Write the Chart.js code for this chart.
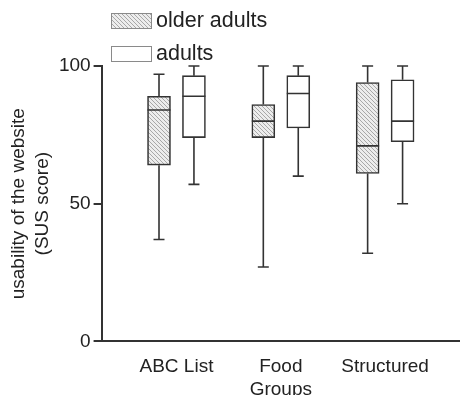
<!DOCTYPE html>
<html>
<head>
<meta charset="utf-8">
<script src="https://cdn.jsdelivr.net/npm/chart.js@4/dist/chart.umd.min.js"></script>
<style>
  html, body { margin: 0; padding: 0; background: #fff; }
  #wrap { width: 460px; height: 395px; position: relative; }
</style>
</head>
<body>
<div id="wrap"><canvas id="c" width="460" height="395"></canvas></div>
<script>
// ---- data ----
const categories = ['ABC List', ['Food', 'Groups'], 'Structured'];
const seriesNames = ['older adults', 'adults'];
const olderMin = [37, 27, 32];
const olderQ1  = [64, 74, 61];
const olderMed = [84, 80, 71];
const olderQ3  = [89, 86, 94];
const olderMax = [97, 100, 100];
const adultMin = [57, 60, 50];
const adultQ1  = [74, 77.5, 72.5];
const adultMed = [89, 90, 80];
const adultQ3  = [96.5, 96.5, 95];
const adultMax = [100, 100, 100];
const yTicks = [0, 50, 100];

const ink = '#333333';
const FONT = "'Liberation Sans', Arial, sans-serif";

function hatch() {
  const c = document.createElement('canvas');
  c.width = 4; c.height = 4;
  const g = c.getContext('2d');
  g.fillStyle = '#ededed';
  g.fillRect(0, 0, 4, 4);
  g.strokeStyle = '#a8a8a8';
  g.lineWidth = 1;
  g.beginPath();
  g.moveTo(-1, -1); g.lineTo(5, 5);
  g.moveTo(-1, 3); g.lineTo(1, 5);
  g.moveTo(3, -1); g.lineTo(5, 1);
  g.stroke();
  return g.createPattern(c, 'repeat');
}
const hatchPattern = hatch();

const groupShift = 0.1675; // half the distance between the two boxes of a group, in category units

function boxData(q1, q3, med, mn, mx, shift) {
  return q1.map((v, i) => ({ x: i + 1 + shift, y: [v, q3[i]], med: med[i], min: mn[i], max: mx[i] }));
}

const boxPlugin = {
  id: 'boxWhiskers',
  afterDatasetsDraw(chart) {
    const ctx = chart.ctx;
    const ys = chart.scales.y;
    chart.data.datasets.forEach((ds, di) => {
      const meta = chart.getDatasetMeta(di);
      meta.data.forEach((el, i) => {
        const d = ds.data[i];
        const x = el.x, w = el.width;
        const pMin = ys.getPixelForValue(d.min);
        const pMax = ys.getPixelForValue(d.max);
        const pQ1 = ys.getPixelForValue(d.y[0]);
        const pQ3 = ys.getPixelForValue(d.y[1]);
        const pMed = ys.getPixelForValue(d.med);
        const cap = 5.5;
        ctx.save();
        ctx.strokeStyle = ink;
        ctx.lineWidth = 1.6;
        ctx.beginPath();
        ctx.moveTo(x, pQ3); ctx.lineTo(x, pMax);
        ctx.moveTo(x - cap, pMax); ctx.lineTo(x + cap, pMax);
        ctx.moveTo(x, pQ1); ctx.lineTo(x, pMin);
        ctx.moveTo(x - cap, pMin); ctx.lineTo(x + cap, pMin);
        ctx.moveTo(x - w / 2, pMed); ctx.lineTo(x + w / 2, pMed);
        ctx.stroke();
        ctx.restore();
      });
    });
  }
};

const legendPlugin = {
  id: 'stackLegend',
  afterDraw(chart) {
    const ctx = chart.ctx;
    const items = [
      { top: 13, fill: hatchPattern },
      { top: 46, fill: '#ffffff' }
    ];
    ctx.save();
    chart.data.datasets.forEach((ds, i) => {
      const it = items[i];
      ctx.fillStyle = it.fill;
      ctx.fillRect(111, it.top, 40, 15);
      ctx.strokeStyle = '#8a8a8a';
      ctx.lineWidth = 1;
      ctx.strokeRect(111.5, it.top + 0.5, 40, 15);
      ctx.fillStyle = '#222';
      ctx.font = '21.5px ' + FONT;
      ctx.textBaseline = 'middle';
      ctx.textAlign = 'left';
      ctx.fillText(ds.label, 156, it.top + 8.5);
    });
    ctx.restore();
  }
};

new Chart(document.getElementById('c'), {
  type: 'bar',
  data: {
    datasets: [
      {
        label: seriesNames[0],
        data: boxData(olderQ1, olderQ3, olderMed, olderMin, olderMax, -groupShift),
        backgroundColor: hatchPattern,
        borderColor: ink,
        borderWidth: 1.6,
        borderSkipped: false,
        barThickness: 23,
        grouped: false
      },
      {
        label: seriesNames[1],
        data: boxData(adultQ1, adultQ3, adultMed, adultMin, adultMax, groupShift),
        backgroundColor: '#ffffff',
        borderColor: ink,
        borderWidth: 1.6,
        borderSkipped: false,
        barThickness: 23,
        grouped: false
      }
    ]
  },
  options: {
    responsive: false,
    animation: false,
    events: [],
    layout: { padding: { top: 66, right: 0, left: 7, bottom: -20 } },
    plugins: { legend: { display: false }, tooltip: { enabled: false } },
    scales: {
      x: {
        type: 'linear',
        offset: false,
        min: 0.282,
        max: 3.718,
        afterBuildTicks(scale) { scale.ticks = categories.map((c, i) => ({ value: i + 1 })); },
        ticks: {
          callback: (v) => categories[Math.round(v) - 1],
          color: '#222',
          font: { family: FONT, size: 19, lineHeight: 1.2 },
          padding: 14,
          maxRotation: 0,
          autoSkip: false
        },
        grid: { display: false, drawTicks: false },
        border: { display: true, color: ink, width: 2 }
      },
      y: {
        min: 0,
        max: 100,
        afterBuildTicks(scale) { scale.ticks = yTicks.map(v => ({ value: v })); },
        ticks: {
          color: '#222',
          font: { family: FONT, size: 19 },
          padding: 3
        },
        grid: { display: true, drawOnChartArea: false, drawTicks: true, tickLength: 8, color: ink, lineWidth: 2 },
        border: { display: true, color: ink, width: 2 },
        title: {
          display: true,
          text: ['usability of the website', '(SUS score)'],
          color: '#222',
          font: { family: FONT, size: 19, lineHeight: 1.26 },
          padding: { top: 0, bottom: 1 }
        }
      }
    }
  },
  plugins: [boxPlugin, legendPlugin]
});
</script>
</body>
</html>
